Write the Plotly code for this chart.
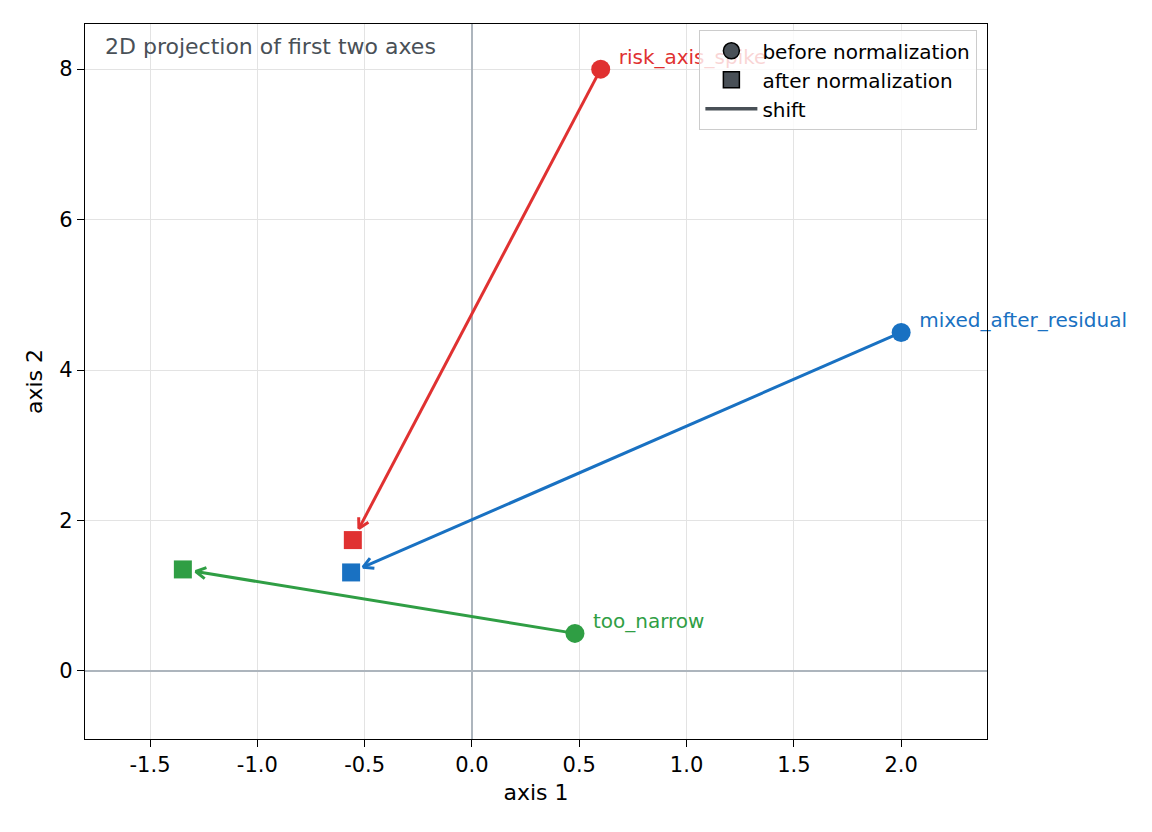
import math
import plotly.graph_objects as go

names = ["risk_axis_spike", "mixed_after_residual", "too_narrow"]
colors = ["#e03131", "#1971c2", "#2f9e44"]
before_x = [0.6, 2.0, 0.48]
before_y = [8.0, 4.5, 0.5]
after_x = [-0.555, -0.563, -1.347]
after_y = [1.74, 1.31, 1.35]

x_ticks = [-1.5, -1.0, -0.5, 0.0, 0.5, 1.0, 1.5, 2.0]
y_ticks = [0, 2, 4, 6, 8]

X_RANGE = [-1.803, 2.40]
Y_RANGE = [-0.904, 8.60]
W, H = 1152, 832
M = dict(l=85, r=165, t=24, b=93)
sx = (W - M["l"] - M["r"]) / (X_RANGE[1] - X_RANGE[0])
sy = (H - M["t"] - M["b"]) / (Y_RANGE[1] - Y_RANGE[0])

SHRINK = 13.0   # px gap between arrow tip and the square
HEAD_L = 10.0   # px arrowhead length
HEAD_W = 5.5    # px arrowhead half width
LBL_DX = 18.0   # px label offset (right)
LBL_DY = 10.0   # px label offset (up)

fig = go.Figure()

for n, c, bx, by, ax_, ay_ in zip(names, colors, before_x, before_y, after_x, after_y):
    dxp = (bx - ax_) * sx
    dyp = (by - ay_) * sy
    L = math.hypot(dxp, dyp)
    ux, uy = dxp / L, dyp / L
    tipx = ax_ + SHRINK * ux / sx
    tipy = ay_ + SHRINK * uy / sy
    px_, py_ = -uy, ux
    w1x = tipx + (HEAD_L * ux + HEAD_W * px_) / sx
    w1y = tipy + (HEAD_L * uy + HEAD_W * py_) / sy
    w2x = tipx + (HEAD_L * ux - HEAD_W * px_) / sx
    w2y = tipy + (HEAD_L * uy - HEAD_W * py_) / sy
    fig.add_trace(go.Scatter(x=[bx, tipx], y=[by, tipy], mode="lines",
                             line=dict(color=c, width=3), showlegend=False,
                             hoverinfo="skip"))
    fig.add_trace(go.Scatter(x=[w1x, tipx, w2x], y=[w1y, tipy, w2y], mode="lines",
                             line=dict(color=c, width=3), showlegend=False,
                             hoverinfo="skip"))

for n, c, bx, by, ax_, ay_ in zip(names, colors, before_x, before_y, after_x, after_y):
    fig.add_trace(go.Scatter(x=[bx], y=[by], mode="markers",
                             marker=dict(symbol="circle", size=19, color=c),
                             showlegend=False, hoverinfo="skip", cliponaxis=False))
    fig.add_trace(go.Scatter(x=[ax_], y=[ay_], mode="markers",
                             marker=dict(symbol="square", size=18, color=c),
                             showlegend=False, hoverinfo="skip", cliponaxis=False))
    fig.add_trace(go.Scatter(x=[bx + LBL_DX / sx], y=[by + LBL_DY / sy], mode="text",
                             text=[n], textposition="middle right",
                             textfont=dict(size=20, color=c, family="DejaVu Sans"),
                             showlegend=False, hoverinfo="skip", cliponaxis=False))

# legend proxies
fig.add_trace(go.Scatter(x=[None], y=[None], mode="markers", name="before normalization",
                         marker=dict(symbol="circle", size=18, color="#495057",
                                     line=dict(color="black", width=1.5))))
fig.add_trace(go.Scatter(x=[None], y=[None], mode="markers", name="after normalization",
                         marker=dict(symbol="square", size=17, color="#495057",
                                     line=dict(color="black", width=1.5))))
fig.add_trace(go.Scatter(x=[None], y=[None], mode="lines", name="shift",
                         line=dict(color="#495057", width=3.5)))

annotations = [dict(
    x=0.02, y=(739 - 47) / 715, xref="paper", yref="paper",
    text="2D projection of first two axes",
    showarrow=False, xanchor="left", yanchor="middle",
    font=dict(size=22, color="#495057", family="DejaVu Sans"))]

axis_common = dict(
    showgrid=True, gridcolor="#e3e3e3", gridwidth=1.2,
    zeroline=True, zerolinecolor="#adb5bd", zerolinewidth=1.6,
    showline=True, linecolor="black", linewidth=1.3, mirror=True,
    ticks="outside", ticklen=7, tickwidth=1.3, tickcolor="black",
    tickfont=dict(size=21, color="black", family="DejaVu Sans"),
)

fig.update_layout(
    width=W, height=H,
    margin=M,
    plot_bgcolor="white", paper_bgcolor="white",
    font=dict(family="DejaVu Sans", color="black"),
    xaxis=dict(range=X_RANGE, tickvals=x_ticks,
               ticktext=[f"{v:.1f}" for v in x_ticks],
               title=dict(text="axis 1", font=dict(size=22), standoff=8),
               **axis_common),
    yaxis=dict(range=Y_RANGE, tickvals=y_ticks,
               ticktext=[str(v) for v in y_ticks],
               title=dict(text="axis 2", font=dict(size=22), standoff=10),
               **axis_common),
    legend=dict(x=0.989, y=(739 - 30) / 715, xanchor="right", yanchor="top",
                bgcolor="rgba(255,255,255,0.8)", bordercolor="#cccccc", borderwidth=1.3,
                font=dict(size=20, color="black"), itemsizing="trace",
                itemwidth=52, tracegroupgap=0),
    annotations=annotations,
)

fig.write_html("out.html")
